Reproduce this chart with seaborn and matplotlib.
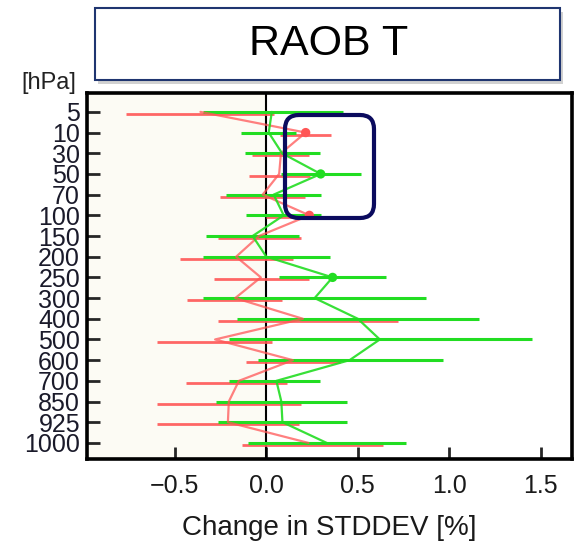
import matplotlib
matplotlib.use("Agg")
import matplotlib.pyplot as plt
import matplotlib.transforms as mtransforms
from matplotlib.patches import FancyBboxPatch, Rectangle
import pandas as pd
import seaborn as sns

# pressure levels (top to bottom)
levels = ['5', '10', '30', '50', '70', '100', '150', '200', '250', '300',
          '400', '500', '600', '700', '850', '925', '1000']

# red experiment: mean change and confidence interval
red_mean = [-0.36, 0.215, 0.08, 0.07, -0.02, 0.235, -0.04, -0.165, -0.03,
            -0.17, 0.20, -0.28, 0.145, -0.15, -0.205, -0.21, 0.23]
red_lo = [-0.765, 0.075, -0.077, -0.097, -0.255, 0.0, -0.264, -0.474, -0.286,
          -0.432, -0.264, -0.597, -0.109, -0.441, -0.597, -0.597, -0.131]
red_hi = [0.04, 0.355, 0.233, 0.24, 0.209, 0.474, 0.188, 0.146, 0.231,
          0.087, 0.72, 0.033, 0.404, 0.115, 0.189, 0.179, 0.638]
red_sig = ['10', '100']

# green experiment
green_mean = [0.03, 0.013, 0.086, 0.297, 0.04, 0.095, -0.075, 0.0, 0.362,
              0.264, 0.50, 0.62, 0.455, 0.055, 0.082, 0.088, 0.33]
green_lo = [-0.346, -0.137, -0.118, 0.082, -0.222, -0.109, -0.328, -0.346, 0.069,
            -0.346, -0.16, -0.204, -0.046, -0.204, -0.277, -0.264, -0.1]
green_hi = [0.419, 0.164, 0.291, 0.519, 0.30, 0.30, 0.178, 0.346, 0.656,
            0.874, 1.16, 1.454, 0.968, 0.291, 0.44, 0.44, 0.761]
green_sig = ['50', '250']

RED = '#ff5656'
GREEN = '#22dd22'

sns.set_style('white')
plt.rcParams['font.family'] = ['Liberation Sans', 'DejaVu Sans']

pos = list(range(len(levels)))
red_df = pd.DataFrame({'pos': pos, 'change': red_mean, 'lo': red_lo, 'hi': red_hi,
                       'level': levels})
green_df = pd.DataFrame({'pos': pos, 'change': green_mean, 'lo': green_lo, 'hi': green_hi,
                         'level': levels})

fig = plt.figure(figsize=(5.76, 5.43), dpi=100)
ax = fig.add_axes([0.151, 0.155, 0.842, 0.674])

xmin, xmax = -0.98, 1.67
ax.axvspan(xmin, 0, color='#fcfbf4', zorder=0, lw=0)
ax.axvline(0, color='black', lw=1.5, zorder=1)

# red drawn a touch lower than green
red_tr = ax.transData + mtransforms.ScaledTranslation(0, -1.5 / 72, fig.dpi_scale_trans)

ax.hlines(red_df['pos'], red_df['lo'], red_df['hi'], colors=RED, lw=2,
          alpha=0.9, zorder=2, transform=red_tr)
ax.hlines(green_df['pos'], green_df['lo'], green_df['hi'], colors=GREEN, lw=2.2,
          zorder=3)

sns.lineplot(data=red_df, x='change', y='pos', orient='y', sort=False,
             estimator=None, color=RED, lw=1.6, alpha=0.75, ax=ax, zorder=4)
sns.lineplot(data=green_df, x='change', y='pos', orient='y', sort=False,
             estimator=None, color=GREEN, lw=1.6, alpha=0.9, ax=ax, zorder=5)

sns.scatterplot(data=red_df[red_df['level'].isin(red_sig)], x='change', y='pos',
                color=RED, s=45, edgecolor='none', ax=ax, zorder=6)
sns.scatterplot(data=green_df[green_df['level'].isin(green_sig)], x='change', y='pos',
                color=GREEN, s=45, edgecolor='none', ax=ax, zorder=6)

ax.set_xlim(xmin, xmax)
ax.set_ylim(16.77, -0.92)
ax.set_yticks(pos)
ax.set_yticklabels(levels)
ax.set_xticks([-0.5, 0.0, 0.5, 1.0, 1.5])
ax.set_xticklabels(['\u22120.5', '0.0', '0.5', '1.0', '1.5'])
ax.set_ylabel('')
ax.set_xlabel('Change in STDDEV [%]', fontsize=20, color='#1a1a1a', labelpad=12)

ax.tick_params(axis='y', direction='in', length=9, width=2, labelsize=18,
               pad=5, labelcolor='#1a1a2a', left=True)
ax.tick_params(axis='x', direction='in', length=9, width=2, labelsize=18,
               pad=11, labelcolor='#1a1a1a', bottom=True)
for s in ax.spines.values():
    s.set_linewidth(2.6)
    s.set_color('black')

fig.text(49 / 576, 1 - 83 / 543, '[hPa]', fontsize=17, color='#222222',
         ha='center', va='center')

# title box with shadow
inch = fig.dpi_scale_trans
fig.patches.append(Rectangle((0.98, 4.59), 4.65, 0.72, transform=inch,
                             facecolor='#999999', edgecolor='none', alpha=0.45))
fig.patches.append(Rectangle((0.95, 4.63), 4.65, 0.72, transform=inch,
                             facecolor='white', edgecolor='#1f3570', lw=1.5))
fig.text(3.29, 4.99, 'RAOB T', transform=inch, fontsize=31, color='black',
         ha='center', va='center')

# highlight box around the upper levels
fig.patches.append(FancyBboxPatch((2.85, 3.25), 0.89, 1.03,
                                  boxstyle='round,pad=0,rounding_size=0.14',
                                  transform=inch, facecolor='none',
                                  edgecolor='#0b0b5e', lw=3, zorder=10))

fig.savefig('out.png', dpi=100)
